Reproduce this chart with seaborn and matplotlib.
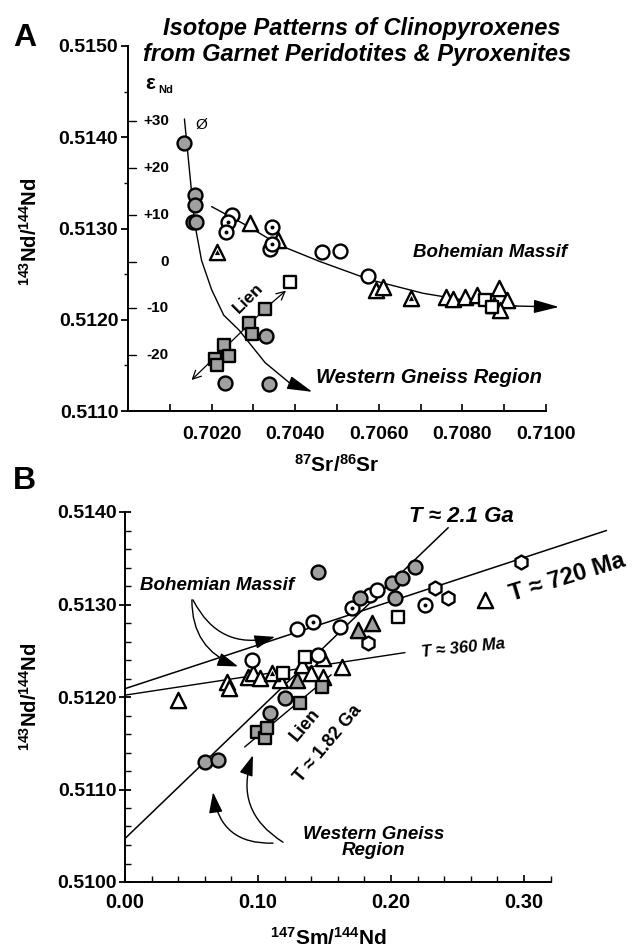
import numpy as np
import pandas as pd
import matplotlib
matplotlib.use("Agg")
import matplotlib.pyplot as plt
import seaborn as sns

# ---------------- Panel A data (87Sr/86Sr vs 143Nd/144Nd) ----------------
a_gray_circ_x = [0.70135, 0.70161, 0.70161, 0.70155, 0.70163, 0.70330, 0.70231, 0.70337]
a_gray_circ_y = [0.51394, 0.51337, 0.51326, 0.51307, 0.51307, 0.51182, 0.51131, 0.51130]
a_open_circ_x = [0.70248, 0.70340, 0.70465, 0.70506, 0.70573]
a_open_circ_y = [0.51315, 0.51278, 0.51274, 0.51275, 0.51248]
a_dot_circ_x = [0.70239, 0.70234, 0.70345, 0.70345]
a_dot_circ_y = [0.51307, 0.51296, 0.51302, 0.51283]
a_open_tri_x = [0.70292, 0.70359, 0.70593, 0.70610, 0.70761, 0.70778, 0.70807, 0.70834,
                0.70887, 0.70875, 0.70906, 0.70890]
a_open_tri_y = [0.51306, 0.51287, 0.51233, 0.51236, 0.51225, 0.51223, 0.51225, 0.51227,
                0.51235, 0.51216, 0.51222, 0.51211]
a_dot_tri_x = [0.70214, 0.70677]
a_dot_tri_y = [0.51274, 0.51224]
a_open_sq_x = [0.70388, 0.70855, 0.70870]
a_open_sq_y = [0.51241, 0.51222, 0.51214]
a_gray_sq_x = [0.70328, 0.70289, 0.70296, 0.70229, 0.70207, 0.70241, 0.70214]
a_gray_sq_y = [0.51212, 0.51196, 0.51184, 0.51172, 0.51157, 0.51160, 0.51150]

# trend curves
a_wgr_curve_x = [0.70135, 0.70147, 0.70159, 0.70176, 0.70200, 0.70229, 0.70265, 0.70328, 0.70386, 0.70441]
a_wgr_curve_y = [0.51420, 0.51364, 0.51307, 0.51265, 0.51233, 0.51205, 0.51189, 0.51153, 0.51131, 0.51121]
a_bm_curve_x = [0.70200, 0.70289, 0.70361, 0.70458, 0.70578, 0.70706, 0.70851, 0.70930, 0.71031]
a_bm_curve_y = [0.51324, 0.51302, 0.51282, 0.51264, 0.51244, 0.51229, 0.51218, 0.51215, 0.51214]
a_lien_x = [0.70152, 0.70231, 0.70335, 0.70378]
a_lien_y = [0.51134, 0.51169, 0.51215, 0.51232]

a_yticks = [0.5110, 0.5120, 0.5130, 0.5140, 0.5150]
a_yticklabels = ["0.5110", "0.5120", "0.5130", "0.5140", "0.5150"]
a_xticks = [0.700, 0.701, 0.702, 0.703, 0.704, 0.705, 0.706, 0.707, 0.708, 0.709, 0.710]
a_xticklabels = ["", "", "0.7020", "", "0.7040", "", "0.7060", "", "0.7080", "", "0.7100"]
eps_values = [30, 20, 10, 0, -10, -20]
eps_labels = ["+30", "+20", "+10", "0", "-10", "-20"]
CHUR = 0.512638

# ---------------- Panel B data (147Sm/144Nd vs 143Nd/144Nd) ----------------
b_gray_circ_x = [0.060, 0.070, 0.109, 0.1203, 0.1451, 0.1767, 0.2008, 0.203, 0.208, 0.218]
b_gray_circ_y = [0.51130, 0.51132, 0.51183, 0.51199, 0.51335, 0.51307, 0.51323, 0.51307, 0.51329, 0.51341]
b_open_circ_x = [0.0955, 0.1293, 0.1451, 0.1617, 0.1840, 0.1895]
b_open_circ_y = [0.51240, 0.51274, 0.51245, 0.51276, 0.51310, 0.51316]
b_dot_circ_x = [0.1414, 0.1707, 0.2256]
b_dot_circ_y = [0.51281, 0.51296, 0.51299]
b_open_tri_x = [0.0398, 0.0767, 0.0782, 0.0925, 0.0962, 0.1015, 0.1165, 0.1330, 0.1398,
                0.1489, 0.1490, 0.1632, 0.2707]
b_open_tri_y = [0.51197, 0.51216, 0.51210, 0.51222, 0.51226, 0.51221, 0.51218, 0.51235, 0.51226,
                0.51242, 0.51222, 0.51232, 0.51305]
b_dot_tri_x = [0.1105]
b_dot_tri_y = [0.51226]
b_gray_tri_x = [0.1293, 0.1750, 0.1857]
b_gray_tri_y = [0.51218, 0.51272, 0.51280]
b_open_sq_x = [0.1188, 0.1353, 0.2053]
b_open_sq_y = [0.51226, 0.51243, 0.51286]
b_gray_sq_x = [0.0990, 0.1050, 0.1068, 0.1316, 0.1480]
b_gray_sq_y = [0.51162, 0.51156, 0.51166, 0.51194, 0.51211]
b_hex_x = [0.1827, 0.2331, 0.2429, 0.2977]
b_hex_y = [0.51258, 0.51318, 0.51307, 0.51346]

# reference lines (end points)
b_line_21ga_x = [0.0, 0.243]
b_line_21ga_y = [0.51047, 0.51383]
b_line_lien_x = [0.090, 0.155]
b_line_lien_y = [0.51146, 0.51224]
b_line_720_x = [0.0, 0.362]
b_line_720_y = [0.51209, 0.51380]
b_line_360_x = [0.0, 0.2105]
b_line_360_y = [0.51202, 0.51248]

b_yticks = [0.5100, 0.5110, 0.5120, 0.5130, 0.5140]
b_yticklabels = ["0.5100", "0.5110", "0.5120", "0.5130", "0.5140"]
b_xticks = [0.0, 0.1, 0.2, 0.3]
b_xticklabels = ["0.00", "0.10", "0.20", "0.30"]

# ---------------- styling ----------------
sns.set_theme(style="ticks")
plt.rcParams["font.family"] = ["Liberation Sans", "DejaVu Sans"]
plt.rcParams["font.weight"] = "bold"
plt.rcParams["text.color"] = "black"
plt.rcParams["axes.labelcolor"] = "black"
plt.rcParams["xtick.color"] = "black"
plt.rcParams["ytick.color"] = "black"
plt.rcParams["axes.edgecolor"] = "black"
plt.rcParams["mathtext.fontset"] = "custom"
plt.rcParams["mathtext.rm"] = "Liberation Sans:bold"
plt.rcParams["mathtext.it"] = "Liberation Sans:bold:italic"
plt.rcParams["mathtext.bf"] = "Liberation Sans:bold"

W, H = 632, 952
fig = plt.figure(figsize=(W / 100, H / 100), dpi=100)
fig.patch.set_facecolor("white")

def fx(px):
    return px / W

def fy(py):
    return 1 - py / H

GRAY = "#a0a0a0"
EW = 1.7

def scatter(ax, xs, ys, marker, fc, s, z=4):
    sns.scatterplot(x=xs, y=ys, ax=ax, marker=marker, s=s, color=fc,
                    edgecolor="black", linewidth=EW, zorder=z, legend=False, clip_on=False)

def dots(ax, xs, ys, marker="o", s=8):
    sns.scatterplot(x=xs, y=ys, ax=ax, marker=marker, s=s, color="black",
                    edgecolor="black", linewidth=0, zorder=6, legend=False, clip_on=False)

def line(ax, xs, ys, lw=1.0, z=2):
    sns.lineplot(x=xs, y=ys, ax=ax, sort=False, estimator=None, color="black",
                 lw=lw, zorder=z, legend=False)
    ax.lines[-1].set_clip_on(False)

def arrowhead(ax, p0, p1, ms=13):
    ax.annotate("", xy=p1, xytext=p0,
                arrowprops=dict(arrowstyle="-|>,head_length=1.2,head_width=0.32",
                                color="black", lw=1.0, mutation_scale=ms,
                                shrinkA=0, shrinkB=0), zorder=5, annotation_clip=False)

# ================= Panel A =================
axA = fig.add_axes([fx(128), fy(411), (546 - 128) / W, (411 - 46) / H])
axA.set_xlim(0.7000, 0.7100)
axA.set_ylim(0.5110, 0.5150)

line(axA, a_wgr_curve_x[:-1], a_wgr_curve_y[:-1])
arrowhead(axA, (a_wgr_curve_x[-2], a_wgr_curve_y[-2]), (a_wgr_curve_x[-1], a_wgr_curve_y[-1]))
line(axA, a_bm_curve_x[:-1], a_bm_curve_y[:-1])
arrowhead(axA, (a_bm_curve_x[-2], a_bm_curve_y[-2]), (a_bm_curve_x[-1], a_bm_curve_y[-1]))
line(axA, a_lien_x[1:3], a_lien_y[1:3], lw=0.9, z=1)
for (i0, i1) in [(1, 0), (2, 3)]:
    axA.annotate("", xy=(a_lien_x[i1], a_lien_y[i1]), xytext=(a_lien_x[i0], a_lien_y[i0]),
                 arrowprops=dict(arrowstyle="->,head_length=0.5,head_width=0.25", color="black",
                                 lw=0.9, shrinkA=0, shrinkB=0, mutation_scale=12), zorder=1)

S = 100
scatter(axA, a_open_tri_x, a_open_tri_y, "^", "white", S + 20)
scatter(axA, a_dot_tri_x, a_dot_tri_y, "^", "white", S + 20)
dots(axA, a_dot_tri_x, a_dot_tri_y, marker="^", s=14)
scatter(axA, a_open_sq_x, a_open_sq_y, "s", "white", S - 15)
scatter(axA, a_open_circ_x, a_open_circ_y, "o", "white", S)
scatter(axA, a_dot_circ_x, a_dot_circ_y, "o", "white", S)
dots(axA, a_dot_circ_x, a_dot_circ_y)
scatter(axA, a_gray_sq_x, a_gray_sq_y, "s", GRAY, S - 15)
scatter(axA, a_gray_circ_x, a_gray_circ_y, "o", GRAY, S)

for sp in ["top", "right"]:
    axA.spines[sp].set_visible(False)
axA.spines["left"].set_bounds(0.5110, 0.5150)
axA.spines["bottom"].set_bounds(0.7000, 0.7100)
for sp in ["left", "bottom"]:
    axA.spines[sp].set_linewidth(1.4)
axA.set_yticks(a_yticks)
axA.set_yticklabels(a_yticklabels)
axA.set_yticks([0.5115, 0.5125, 0.5135, 0.5145], minor=True)
axA.set_xticks(a_xticks)
axA.set_xticklabels(a_xticklabels)
axA.tick_params(axis="y", which="major", direction="out", length=5, width=1.3, labelsize=14, pad=2)
axA.tick_params(axis="y", which="minor", direction="out", length=3, width=1.0)
axA.tick_params(axis="x", which="major", direction="in", length=5, width=1.2, labelsize=14, pad=11)
for lab in axA.get_xticklabels() + axA.get_yticklabels():
    lab.set_fontweight("bold")

# epsilon Nd scale inside the left axis
for e, lab in zip(eps_values, eps_labels):
    yv = CHUR * (1 + e / 1e4)
    axA.plot([0.70003, 0.70020], [yv, yv], color="black", lw=1.0, clip_on=False)
    axA.text(0.70098, yv, lab, ha="right", va="center", fontsize=11, fontweight="bold")
axA.text(0.70055, 0.51459, r"$\mathregular{\epsilon}$", ha="center", va="center", fontsize=15)
axA.text(0.70072, 0.51452, "Nd", ha="left", va="center", fontsize=8, fontweight="bold")
axA.text(0.70176, 0.51413, "Ø", ha="center", va="center", fontsize=11, fontweight="normal")

axA.text(0.70865, 0.51274, "Bohemian Massif", ha="center", va="center",
         fontsize=13.5, fontweight="bold", style="italic")
axA.text(0.70450, 0.51137, "Western Gneiss Region", ha="left", va="center",
         fontsize=14.5, fontweight="bold", style="italic")
axA.text(0.70289, 0.51224, "Lien", ha="center", va="center", rotation=45,
         fontsize=12.5, fontweight="bold")
axA.set_xlabel("")
axA.set_ylabel("")

# ================= Panel B =================
axB = fig.add_axes([fx(125), fy(882), 0.38 * 1330 / W, (882 - 512) / H])
axB.set_xlim(0.0, 0.38)
axB.set_ylim(0.5100, 0.5140)

line(axB, b_line_21ga_x, b_line_21ga_y, lw=1.1)
line(axB, b_line_lien_x, b_line_lien_y, lw=1.0)
line(axB, b_line_720_x, b_line_720_y, lw=1.1)
line(axB, b_line_360_x, b_line_360_y, lw=1.0)

SB = 100
scatter(axB, b_open_tri_x, b_open_tri_y, "^", "white", SB + 20)
scatter(axB, b_dot_tri_x, b_dot_tri_y, "^", "white", SB + 20)
dots(axB, b_dot_tri_x, b_dot_tri_y, marker="^", s=14)
scatter(axB, b_gray_tri_x, b_gray_tri_y, "^", GRAY, SB + 20)
scatter(axB, b_open_sq_x, b_open_sq_y, "s", "white", SB - 15)
scatter(axB, b_hex_x, b_hex_y, "h", "white", SB)
scatter(axB, b_open_circ_x, b_open_circ_y, "o", "white", SB)
scatter(axB, b_dot_circ_x, b_dot_circ_y, "o", "white", SB)
dots(axB, b_dot_circ_x, b_dot_circ_y)
scatter(axB, b_gray_sq_x, b_gray_sq_y, "s", GRAY, SB - 15)
scatter(axB, b_gray_circ_x, b_gray_circ_y, "o", GRAY, SB)

for sp in ["top", "right"]:
    axB.spines[sp].set_visible(False)
axB.spines["left"].set_bounds(0.5100, 0.5140)
axB.spines["bottom"].set_bounds(0.0, 0.32)
for sp in ["left", "bottom"]:
    axB.spines[sp].set_linewidth(1.4)
axB.set_yticks(b_yticks)
axB.set_yticklabels(b_yticklabels)
axB.set_yticks([v for v in np.round(np.arange(0.5100, 0.51401, 0.0002), 4) if v not in b_yticks], minor=True)
axB.set_xticks(b_xticks)
axB.set_xticklabels(b_xticklabels)
axB.set_xticks([v for v in np.round(np.arange(0.0, 0.3201, 0.02), 2) if v not in b_xticks], minor=True)
axB.tick_params(axis="y", which="major", direction="inout", length=8, width=1.3, labelsize=14, pad=2)
axB.tick_params(axis="y", which="minor", direction="in", length=4, width=1.0)
axB.tick_params(axis="x", which="major", direction="in", length=5, width=1.2, labelsize=14.5, pad=8)
axB.tick_params(axis="x", which="minor", direction="in", length=4, width=1.0)
for lab in axB.get_xticklabels() + axB.get_yticklabels():
    lab.set_fontweight("bold")
axB.set_xlabel("")
axB.set_ylabel("")

# annotations panel B
axB.text(0.0692, 0.51321, "Bohemian Massif", ha="center", va="center",
         fontsize=13.5, fontweight="bold", style="italic")
axB.annotate("", xy=(0.1128, 0.51265), xytext=(0.0511, 0.51305),
             arrowprops=dict(arrowstyle="-|>,head_length=0.9,head_width=0.3", color="black",
                             lw=1.0, connectionstyle="arc3,rad=0.4", mutation_scale=14,
                             shrinkA=0, shrinkB=0))
axB.annotate("", xy=(0.0850, 0.51233), xytext=(0.0503, 0.51305),
             arrowprops=dict(arrowstyle="-|>,head_length=0.9,head_width=0.3", color="black",
                             lw=1.0, connectionstyle="arc3,rad=0.35", mutation_scale=14,
                             shrinkA=0, shrinkB=0))
axB.text(0.187, 0.51043, "Western Gneiss\nRegion", ha="center", va="center",
         multialignment="center", fontsize=13.5, fontweight="bold", style="italic", linespacing=0.95)
axB.annotate("", xy=(0.0962, 0.51137), xytext=(0.1188, 0.51043),
             arrowprops=dict(arrowstyle="-|>,head_length=0.9,head_width=0.3", color="black",
                             lw=1.0, connectionstyle="arc3,rad=-0.4", mutation_scale=14,
                             shrinkA=0, shrinkB=0))
axB.annotate("", xy=(0.0662, 0.51097), xytext=(0.1113, 0.51042),
             arrowprops=dict(arrowstyle="-|>,head_length=0.9,head_width=0.3", color="black",
                             lw=1.0, connectionstyle="arc3,rad=-0.45", mutation_scale=14,
                             shrinkA=0, shrinkB=0))
axB.text(0.2526, 0.51395, "T ≈ 2.1 Ga", ha="center", va="center",
         fontsize=16, fontweight="bold", style="italic")
axB.text(0.3323, 0.51329, "T ≈ 720 Ma", ha="center", va="center", rotation=17,
         fontsize=17, fontweight="bold")
axB.text(0.2541, 0.51253, "T ≈ 360 Ma", ha="center", va="center", rotation=6,
         fontsize=12, fontweight="bold", style="italic")
axB.text(0.1353, 0.51170, "Lien", ha="center", va="center", rotation=50,
         fontsize=13, fontweight="bold")
axB.text(0.1526, 0.51150, "T ≈ 1.82 Ga", ha="center", va="center", rotation=50,
         fontsize=13, fontweight="bold")

# ---------------- figure-level text ----------------
fig.text(fx(25), fy(38), "A", fontsize=23, fontweight="bold", ha="center", va="center")
fig.text(fx(24), fy(481), "B", fontsize=23, fontweight="bold", ha="center", va="center")
fig.text(fx(163), fy(28), "Isotope Patterns of Clinopyroxenes", fontsize=17,
         fontweight="bold", style="italic", ha="left", va="center")
fig.text(fx(143), fy(55), "from Garnet Peridotites & Pyroxenites", fontsize=17,
         fontweight="bold", style="italic", ha="left", va="center")
fig.text(fx(30), fy(232), r"$\mathregular{^{143}}$Nd/$\mathregular{^{144}}$Nd", rotation=90,
         fontsize=14.5, fontweight="bold", ha="center", va="center")
fig.text(fx(337), fy(465), r"$\mathregular{^{87}}$Sr/$\mathregular{^{86}}$Sr",
         fontsize=15, fontweight="bold", ha="center", va="center")
fig.text(fx(30), fy(697), r"$\mathregular{^{143}}$Nd/$\mathregular{^{144}}$Nd", rotation=90,
         fontsize=14.5, fontweight="bold", ha="center", va="center")
fig.text(fx(328), fy(938), r"$\mathregular{^{147}}$Sm/$\mathregular{^{144}}$Nd",
         fontsize=15, fontweight="bold", ha="center", va="center")

fig.savefig("out.png", dpi=100, facecolor="white")
